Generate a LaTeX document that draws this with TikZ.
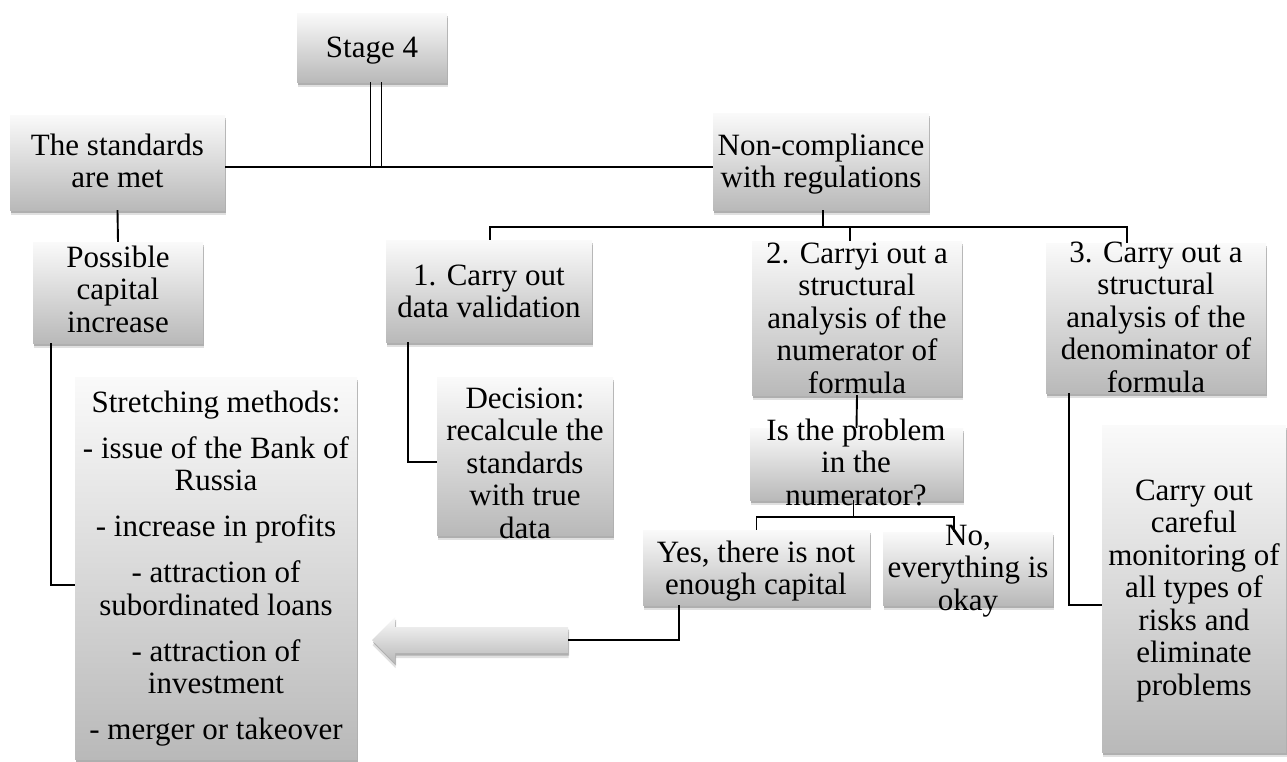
\documentclass[tikz,border=0pt]{standalone}
\usepackage{fontspec}
\setmainfont{Liberation Serif}
\usetikzlibrary{shadows,calc}
\definecolor{gtop}{HTML}{FAFAFA}
\definecolor{gmid}{HTML}{E2E2E2}
\definecolor{gbot}{HTML}{B9B9B9}
\tikzset{
  softshadow/.style={
    drop shadow={shadow xshift=0.5pt, shadow yshift=-5pt, opacity=0.12, fill=black},
    drop shadow={shadow xshift=1pt, shadow yshift=-2.5pt, opacity=0.22, fill=black}},
  boxst/.style={draw=none, inner sep=0, top color=gtop, middle color=gmid, bottom color=gbot, softshadow},
  txt/.style={inner sep=0, anchor=north, align=center, font=\fontsize{31}{32.5}\selectfont},
  conn/.style={draw=black, line width=1.9pt}
}
\newcommand{\bx}[5]{\node[boxst, minimum width={#4-#2}, minimum height={#5-#3}] (#1) at ({(#2+#4)/2},{(#3+#5)/2}) {};}
\newcommand{\tx}[4]{\node[txt] (#1) at (#2,{#3-22.75}) {\strut #4};}
\begin{document}
\begin{tikzpicture}[x=1pt,y=-1pt]
\useasboundingbox (0,0) rectangle (1287,761);
% boxes
\bx{stage}{297}{13}{447}{82}
\bx{std}{10}{115}{225}{210}
\bx{pos}{33}{242}{203}{343}
\bx{str}{75}{377}{357}{759}
\bx{nc}{713}{113}{929}{210}
\bx{b1}{386}{240}{592}{342}
\bx{dec}{437}{377}{613}{535}
\bx{b2}{752}{241}{962}{395}
\bx{isp}{750}{428}{963}{500}
\bx{yes}{643}{530}{870}{605}
\bx{no}{883}{532}{1053}{605}
\bx{b3}{1046}{243}{1266}{393}
\bx{mon}{1102}{425}{1286}{752}
% arrow
\path[top color=gtop, middle color=gmid, bottom color=gbot, softshadow]
  (372,640) -- (395,617) -- (395,627) -- (568,627) -- (568,653) -- (395,653) -- (395,663) -- cycle;
\coordinate (arrtail) at (568,640);
% texts
\tx{stage-t}{372}{57}{Stage 4}
\tx{std-t}{117.5}{155}{The standards\\are met}
\tx{pos-t}{118}{267}{Possible\\capital\\increase}
\tx{str-t}{216}{412}{Stretching methods:\\[13.5pt]- issue of the Bank of\\Russia\\[13.5pt]- increase in profits\\[13.5pt]- attraction of\\subordinated loans\\[13.5pt]- attraction of\\investment\\[13.5pt]- merger or takeover}
\tx{nc-t}{821}{155}{Non-compliance\\with regulations}
\tx{b1-t}{489}{285}{1. Carry out\\data validation}
\tx{dec-t}{525}{408}{Decision:\\recalcule the\\standards\\with true\\data}
\tx{b2-t}{857}{263}{2. Carryi out a\\structural\\analysis of the\\numerator of\\formula}
\tx{isp-t}{856}{440}{Is the problem\\in the\\numerator?}
\tx{yes-t}{756}{562}{Yes, there is not\\enough capital}
\tx{no-t}{968}{545}{No,\\everything is\\okay}
\tx{b3-t}{1156}{262}{3. Carry out a\\structural\\analysis of the\\denominator of\\formula}
\tx{mon-t}{1194}{500}{Carry out\\careful\\monitoring of\\all types of\\risks and\\eliminate\\problems}
% connectors
\coordinate (hl) at (0,167);
\coordinate (bus) at (0,227);
\coordinate (c1) at (51,585);
\draw[conn] ([xshift=-1.5pt]stage.south) -- ([xshift=-1.5pt]stage.south |- hl);
\draw[conn] ([xshift=9.5pt]stage.south) -- ([xshift=9.5pt]stage.south |- hl);
\draw[conn] (std.east |- hl) -- (nc.west |- hl);
\draw[conn] (std.south) -- (pos.north);
\draw[conn] (pos.south -| c1) |- (str.west |- c1);
\draw[conn] ([xshift=2pt]nc.south) -- ([xshift=2pt]nc.south |- bus);
\draw[conn] ([xshift=1pt]b1.north) |- ([xshift=-29pt]b3.north |- bus) -- ([xshift=-29pt]b3.north);
\draw[conn] ([xshift=-7pt]b2.north |- bus) -- ([xshift=-7pt]b2.north);
\draw[conn] ([xshift=-81pt]b1.south) |- ([yshift=-6pt]dec.west);
\draw[conn] (b2.south) -- (isp.north);
\coordinate (split) at ($(isp.south)+(-3,17)$);
\draw[conn] ([xshift=-3pt]isp.south) -- (split);
\draw[conn] (split) -| (yes.north);
\draw[conn] (split) -| ([xshift=-14pt]no.north);
\draw[conn] ([xshift=-77.5pt]yes.south) |- (arrtail);
\draw[conn] ([xshift=-87pt]b3.south) |- ([yshift=-16.5pt]mon.west);
\end{tikzpicture}
\end{document}
